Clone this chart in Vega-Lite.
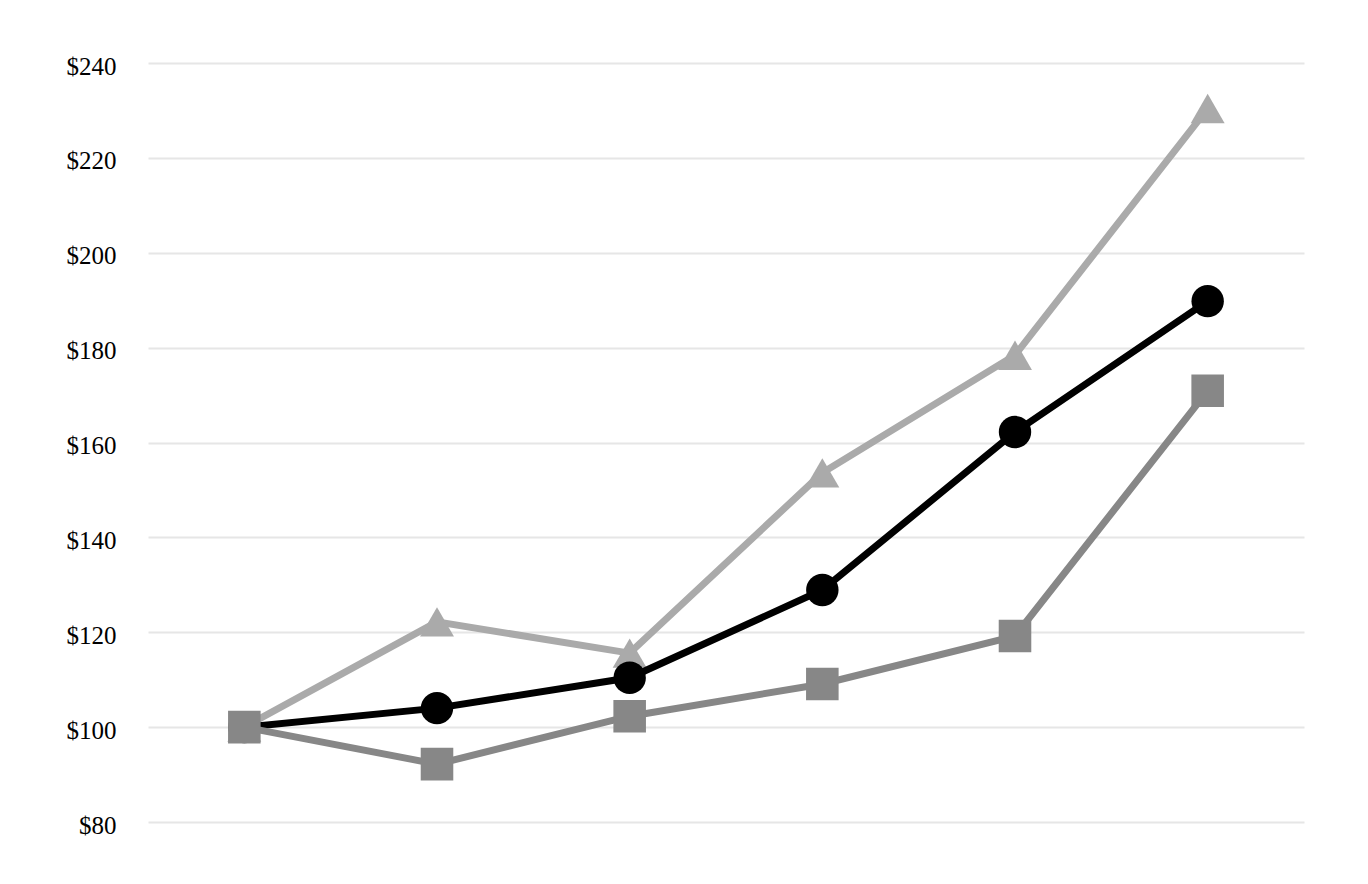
{
  "$schema": "https://vega.github.io/schema/vega-lite/v6.json",
  "width": 1156,
  "height": 759,
  "autosize": {"type": "none"},
  "padding": {"left": 148, "top": 63, "right": 64, "bottom": 62},
  "background": "white",
  "config": {
    "view": {"stroke": null},
    "font": "Liberation Serif"
  },
  "data": {
    "values": [
      {"period": "1", "series": "triangle", "value": 100},
      {"period": "2", "series": "triangle", "value": 122.2},
      {"period": "3", "series": "triangle", "value": 115.6},
      {"period": "4", "series": "triangle", "value": 153.6},
      {"period": "5", "series": "triangle", "value": 178.4},
      {"period": "6", "series": "triangle", "value": 230.4},
      {"period": "1", "series": "circle", "value": 100},
      {"period": "2", "series": "circle", "value": 104.0},
      {"period": "3", "series": "circle", "value": 110.4},
      {"period": "4", "series": "circle", "value": 128.9},
      {"period": "5", "series": "circle", "value": 162.2},
      {"period": "6", "series": "circle", "value": 189.8},
      {"period": "1", "series": "square", "value": 100},
      {"period": "2", "series": "square", "value": 92.2},
      {"period": "3", "series": "square", "value": 102.3},
      {"period": "4", "series": "square", "value": 109.1},
      {"period": "5", "series": "square", "value": 119.2},
      {"period": "6", "series": "square", "value": 170.9}
    ]
  },
  "encoding": {
    "x": {
      "field": "period",
      "type": "ordinal",
      "scale": {"type": "point", "padding": 0.5},
      "axis": null
    },
    "y": {
      "field": "value",
      "type": "quantitative",
      "scale": {"domain": [80, 240], "nice": false, "zero": false},
      "axis": {
        "title": null,
        "values": [80, 100, 120, 140, 160, 180, 200, 220, 240],
        "labelExpr": "'$' + datum.value",
        "domain": false,
        "ticks": false,
        "grid": true,
        "gridColor": "#e6e6e6",
        "gridWidth": 2,
        "labelFont": "Liberation Serif",
        "labelFontSize": 25,
        "labelColor": "#000000",
        "labelPadding": 32,
        "labelOffset": 3
      }
    },
    "color": {
      "field": "series",
      "type": "nominal",
      "scale": {
        "domain": ["triangle", "circle", "square"],
        "range": ["#aaaaaa", "#000000", "#878787"]
      },
      "legend": null
    }
  },
  "layer": [
    {
      "transform": [{"filter": "datum.series == 'triangle'"}],
      "mark": {
        "type": "line",
        "strokeWidth": 7,
        "point": {"filled": true, "opacity": 1, "shape": "triangle-up", "size": 1150}
      }
    },
    {
      "transform": [{"filter": "datum.series == 'circle'"}],
      "mark": {
        "type": "line",
        "strokeWidth": 7,
        "point": {"filled": true, "opacity": 1, "shape": "circle", "size": 1050}
      }
    },
    {
      "transform": [{"filter": "datum.series == 'square'"}],
      "mark": {
        "type": "line",
        "strokeWidth": 7,
        "point": {"filled": true, "opacity": 1, "shape": "square", "size": 1060}
      }
    }
  ]
}
